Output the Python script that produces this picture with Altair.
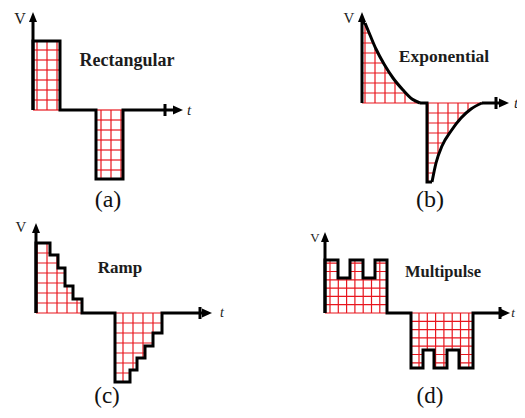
import altair as alt
import pandas as pd
import numpy as np

# ---------------- layout of the four panels (page px) ----------------
panels = ["a", "b", "c", "d"]
origin_x = {"a": 33, "b": 362, "c": 36, "d": 325}   # V-axis position
origin_y = {"a": 110, "b": 103, "c": 313, "d": 313}  # zero line position

# ---------------- waveforms (local units: t to the right, V upward) ----
# step-after vertices
rect_t = [0, 0, 27, 63, 90, 144]
rect_v = [0, 69, 0, -69, 0, 0]

ramp_t = [0, 0, 14, 22, 29, 37, 46, 79, 94, 101, 109, 117, 126, 170]
ramp_v = [0, 70, 58, 45, 27, 14, 0, -69, -57, -45, -33, -20, 0, 0]

multi_t = [0, 0, 13, 25, 38, 50, 62, 86, 98, 109, 122, 134, 148, 179]
multi_v = [0, 53, 35, 53, 35, 53, 0, -55, -37, -55, -37, -55, 0, 0]

# exponential: two curved pieces and the straight pieces between them
decay_t = [3, 8, 14, 22, 31, 41, 50, 58]
decay_v = [80, 68, 54, 39, 25, 13, 4, 0]
rise_t = [70, 74, 80, 89, 99, 109, 120]
rise_v = [-79, -60, -43, -28, -15, -6, 0]
exp_straight_t = [[0, 3], [58, 65, 65, 70], [120, 141]]
exp_straight_v = [[80, 80], [0, 0, -79, -79], [0, 0]]

# axis arrows: V tip, t tip, tick on the t axis
v_tip = {"a": 98, "b": 91, "c": 90, "d": 81}
t_tip = {"a": 150, "b": 147, "c": 176, "d": 185}
t_tick = {"a": 132, "b": 134, "c": 164, "d": 175}

# grid hatching of each lobe: panel, t0, t1, peak, spacing, phase
lobes = [
    ("a", 0, 27, 69, 10, 4), ("a", 63, 90, -69, 10, 5),
    ("b", 0, 58, 80, 10, 3), ("b", 65, 120, -79, 10, 1),
    ("c", 0, 46, 70, 10, 1), ("c", 79, 126, -69, 10, 8),
    ("d", 0, 62, 53, 8.3, 5), ("d", 86, 148, -55, 8.3, 8),
]

# texts
titles = ["Rectangular", "Exponential", "Ramp", "Multipulse"]
title_t = [94, 82, 84, 118]
title_v = [49, 46, 45, 41]
title_fs = [18, 17.5, 17, 16.5]
captions = ["(a)", "(b)", "(c)", "(d)"]
cap_t = [75, 68, 71, 105]
cap_v = [-90, -97, -83, -83]
cap_fs = [24, 24, 23, 23]
vlab_t = [-13, -13, -15, -10]
vlab_v = [91, 85, 86, 75]
vlab_fs = [16, 15, 15, 13]
tlab_t = [156, 154, 186, 188]
tlab_fs = [15, 15, 14, 13]


def gx(p, t):
    return origin_x[p] + np.asarray(t, dtype=float)


def gy(p, v):
    return origin_y[p] - np.asarray(v, dtype=float)


X = alt.X("X:Q", scale=alt.Scale(domain=[8, 517], zero=False, nice=False), axis=None)
Y = alt.Y("Y:Q", scale=alt.Scale(domain=[8, 410], zero=False, nice=False, reverse=True), axis=None)

# ---- grid rules
g = []
for p, t0, t1, pk, s, ph in lobes:
    sign = 1 if pk > 0 else -1
    for tt in np.arange(t0 + ph, t1, s):
        g.append((gx(p, tt), gy(p, 0), gx(p, tt), gy(p, pk)))
    for vv in np.arange(0, abs(pk), s):
        g.append((gx(p, t0), gy(p, sign * vv), gx(p, t1), gy(p, sign * vv)))
grid_df = pd.DataFrame(g, columns=["X", "Y", "X2", "Y2"])
grid = alt.Chart(grid_df).mark_rule(color="#e8161e", strokeWidth=1.2).encode(
    x=X, y=Y, x2="X2:Q", y2="Y2:Q")

# ---- white masks outside the waveform inside each lobe box
ms = []
for p, tt, vv, sl in [("c", ramp_t, ramp_v, slice(1, 7)), ("c", ramp_t, ramp_v, slice(7, 13)),
                      ("d", multi_t, multi_v, slice(1, 7)), ("d", multi_t, multi_v, slice(7, 13))]:
    ts, vs = tt[sl], vv[sl]
    lob = f"{p}{sl.start}"
    for t, v in zip(ts, vs):
        ms.append((lob, gx(p, t), gy(p, v), gy(p, vs[0])))
mask_step_df = pd.DataFrame(ms, columns=["lobe", "X", "Y", "Y2"])
mask_step = alt.Chart(mask_step_df).mark_area(interpolate="step-after", color="white").encode(
    x=X, y=Y, y2="Y2:Q", detail="lobe:N")

mc = []
for lob, ts, vs in [("b1", decay_t, decay_v), ("b2", rise_t, rise_v)]:
    for t, v in zip(ts, vs):
        mc.append((lob, gx("b", t), gy("b", v), gy("b", vs[0])))
mask_curve_df = pd.DataFrame(mc, columns=["lobe", "X", "Y", "Y2"])
mask_curve = alt.Chart(mask_curve_df).mark_area(interpolate="monotone", color="white").encode(
    x=X, y=Y, y2="Y2:Q", detail="lobe:N")

# ---- waveform lines
sl = []
for p, tt, vv in [("a", rect_t, rect_v), ("c", ramp_t, ramp_v), ("d", multi_t, multi_v)]:
    for i, (t, v) in enumerate(zip(tt, vv)):
        sl.append((p, i, gx(p, t), gy(p, v)))
step_df = pd.DataFrame(sl, columns=["seg", "i", "X", "Y"])
step_line = alt.Chart(step_df).mark_line(
    interpolate="step-after", color="black", strokeWidth=3).encode(
    x=X, y=Y, detail="seg:N", order="i:Q")

ll = []
for k, (tt, vv) in enumerate(zip(exp_straight_t, exp_straight_v)):
    for i, (t, v) in enumerate(zip(tt, vv)):
        ll.append((f"s{k}", i, gx("b", t), gy("b", v)))
lin_df = pd.DataFrame(ll, columns=["seg", "i", "X", "Y"])
lin_line = alt.Chart(lin_df).mark_line(color="black", strokeWidth=3).encode(
    x=X, y=Y, detail="seg:N", order="i:Q")

cl = []
for lob, ts, vs in [("c1", decay_t, decay_v), ("c2", rise_t, rise_v)]:
    for i, (t, v) in enumerate(zip(ts, vs)):
        cl.append((lob, i, gx("b", t), gy("b", v)))
curve_df = pd.DataFrame(cl, columns=["seg", "i", "X", "Y"])
curve_line = alt.Chart(curve_df).mark_line(
    interpolate="monotone", color="black", strokeWidth=3).encode(
    x=X, y=Y, detail="seg:N", order="i:Q")

# ---- axes, ticks, arrowheads
ax_df = pd.DataFrame({
    "X": [gx(p, 0) for p in panels],
    "Y": [gy(p, 0) for p in panels],
    "Y2": [gy(p, v_tip[p] - 5) for p in panels],
})
v_axis = alt.Chart(ax_df).mark_rule(color="black", strokeWidth=3).encode(x=X, y=Y, y2="Y2:Q")

tick_df = pd.DataFrame({
    "X": [gx(p, t_tick[p]) for p in panels],
    "Y": [gy(p, 6) for p in panels],
    "Y2": [gy(p, -6) for p in panels],
})
ticks = alt.Chart(tick_df).mark_rule(color="black", strokeWidth=3).encode(x=X, y=Y, y2="Y2:Q")

up_df = pd.DataFrame({
    "X": [gx(p, 0) for p in panels],
    "Y": [gy(p, v_tip[p] - 5) for p in panels],
})
up_arrow = alt.Chart(up_df).mark_point(
    shape="M0,-1L-0.8,1L0.8,1Z", size=100, filled=True, color="black", opacity=1).encode(x=X, y=Y)

rt_df = pd.DataFrame({
    "X": [gx(p, t_tip[p] - 5) for p in panels],
    "Y": [gy(p, 0) for p in panels],
})
rt_arrow = alt.Chart(rt_df).mark_point(
    shape="M1,0L-1,-0.9L-1,0.9Z", size=100, filled=True, color="black", opacity=1).encode(x=X, y=Y)

# ---- texts
title_df = pd.DataFrame({
    "txt": titles,
    "X": [gx(p, t) for p, t in zip(panels, title_t)],
    "Y": [gy(p, v) for p, v in zip(panels, title_v)],
    "fs": title_fs,
})
title_txt = alt.Chart(title_df).mark_text(
    font="Liberation Serif", fontWeight="bold", color="#1c1c1c", baseline="middle", align="center").encode(
    x=X, y=Y, text="txt:N", size=alt.Size("fs:Q", scale=None))

cap_df = pd.DataFrame({
    "txt": captions,
    "X": [gx(p, t) for p, t in zip(panels, cap_t)],
    "Y": [gy(p, v) for p, v in zip(panels, cap_v)],
    "fs": cap_fs,
})
cap_txt = alt.Chart(cap_df).mark_text(
    font="Liberation Serif", color="#111111", baseline="middle", align="center").encode(
    x=X, y=Y, text="txt:N", size=alt.Size("fs:Q", scale=None))

vlab_df = pd.DataFrame({
    "txt": ["V"] * 4,
    "X": [gx(p, t) for p, t in zip(panels, vlab_t)],
    "Y": [gy(p, v) for p, v in zip(panels, vlab_v)],
    "fs": vlab_fs,
})
vlab_txt = alt.Chart(vlab_df).mark_text(
    font="Liberation Serif", color="#1c1c1c", baseline="middle", align="center").encode(
    x=X, y=Y, text="txt:N", size=alt.Size("fs:Q", scale=None))

tlab_df = pd.DataFrame({
    "txt": ["t"] * 4,
    "X": [gx(p, t) for p, t in zip(panels, tlab_t)],
    "Y": [gy(p, 0) for p in panels],
    "fs": tlab_fs,
})
tlab_txt = alt.Chart(tlab_df).mark_text(
    font="Liberation Serif", fontStyle="italic", color="#1c1c1c", baseline="middle", align="center").encode(
    x=X, y=Y, text="txt:N", size=alt.Size("fs:Q", scale=None))

chart = alt.layer(
    grid, mask_step, mask_curve, step_line, lin_line, curve_line,
    v_axis, ticks, up_arrow, rt_arrow, title_txt, cap_txt, vlab_txt, tlab_txt,
).properties(
    width=509, height=402, padding=0, autosize=alt.AutoSizeParams(type="none"),
    background="white",
).configure_view(stroke="transparent")

chart.save("out.html", embed_options={"renderer": "svg", "actions": False})
